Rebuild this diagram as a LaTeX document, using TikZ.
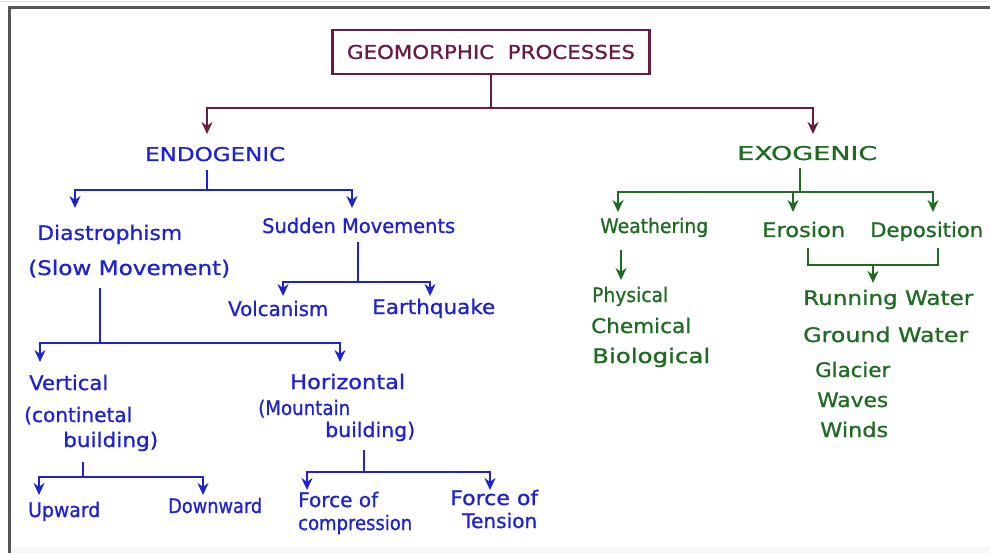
\documentclass[tikz,border=0pt]{standalone}
\usepackage{fontspec}
\usepackage{graphicx}
\setmainfont{DejaVu Sans}[FakeBold=0.8]
\newfontfamily\handfont[FakeBold=0.9]{DejaVu Sans}
\newfontfamily\capsfont[FakeBold=0.9]{DejaVu Sans}
\newcommand\hwbox[2]{\resizebox{#1pt}{\height}{#2}}
\usetikzlibrary{arrows.meta}
\definecolor{mar}{HTML}{6A1B45}
\definecolor{blu}{HTML}{1E22D2}
\definecolor{grn}{HTML}{1F6B22}
\definecolor{frm}{HTML}{555555}
\begin{document}
\begin{tikzpicture}[x=1pt,y=-1pt,
  lbl/.style={anchor=base west, inner sep=0pt, font=\handfont\fontsize{20}{22}\selectfont},
  blab/.style={lbl, text=blu},
  glab/.style={lbl, text=grn},
  caplab/.style={anchor=base west, inner sep=0pt, font=\capsfont\fontsize{19}{21}\selectfont},
  ml/.style={draw=mar, line width=2.8pt},
  bl/.style={draw=blu, line width=2.8pt},
  gl/.style={draw=grn, line width=2.8pt},
  arr/.style={-{Stealth[length=12pt,width=11pt]}}]
\useasboundingbox (0,0) rectangle (990,553);
\fill[white] (0,0) rectangle (990,553);
% frame
\draw[gray!25, line width=1pt] (0,2) -- (990,2);
\fill[gray!6] (9,547) rectangle (990,553);
\draw[frm, line width=3pt] (9,553) -- (9,8) -- (990,8);

% title
\node[draw=mar, line width=2.8pt, minimum width=317pt, minimum height=44pt, inner sep=0pt,
  text=mar, font=\capsfont\fontsize{19}{21}\selectfont] (title) at (491,52) {\hwbox{288}{GEOMORPHIC\ \ PROCESSES}};
\coordinate (j0) at (491,108);

% level 1
\node[caplab, text=blu] (endo) at (145,161) {\hwbox{140}{ENDOGENIC}};
\node[caplab, text=grn] (exo) at (737,160) {\hwbox{140}{EXOGENIC}};

\draw[ml] (title.south) -- (j0);
\draw[ml,arr] (j0) -| ([shift={(62,-27)}]endo.base west);
\draw[ml,arr] (j0) -| ([shift={(76,-26)}]exo.base west);

% endogenic
\node[blab] (dias) at (37,240) {\hwbox{145}{Diastrophism}};
\node[blab] (slow) at (28,275) {\hwbox{202}{(Slow Movement)}};
\node[blab] (sudden) at (262,233) {\hwbox{193}{Sudden Movements}};
\coordinate (jE) at (207,190);
\draw[bl] ([shift={(62,9)}]endo.base west) -- (jE);
\draw[bl,arr] (jE) -| ([shift={(38,-32)}]dias.base west);
\draw[bl,arr] (jE) -| ([shift={(90,-25)}]sudden.base west);

\node[blab] (volc) at (228,316) {\hwbox{100}{Volcanism}};
\node[blab] (earth) at (372,314) {\hwbox{123}{Earthquake}};
\coordinate (jS) at (358,282);
\draw[bl] ([shift={(96,9)}]sudden.base west) -- (jS);
\draw[bl,arr] (jS) -| ([shift={(55,-20)}]volc.base west);
\draw[bl,arr] (jS) -| ([shift={(58,-18)}]earth.base west);

\node[blab] (vert1) at (29,390) {\hwbox{79}{Vertical}};
\node[blab] (vert2) at (24,422) {\hwbox{108}{(continetal}};
\node[blab] (vert3) at (63,447) {\hwbox{95}{building)}};
\node[blab] (hor1) at (290,389) {\hwbox{115}{Horizontal}};
\node[blab] (hor2) at (258,415) {\hwbox{92}{(Mountain}};
\node[blab] (hor3) at (325,437) {\hwbox{90}{building)}};
\coordinate (jD) at (100,343);
\draw[bl] ([shift={(72,13)}]slow.base west) -- (jD);
\draw[bl,arr] (jD) -| ([shift={(11,-28)}]vert1.base west);
\draw[bl,arr] (jD) -| ([shift={(50,-27)}]hor1.base west);

\node[blab] (up) at (28,517) {\hwbox{72}{Upward}};
\node[blab] (down) at (168,513) {\hwbox{94}{Downward}};
\coordinate (jV) at (83,477);
\draw[bl] ([shift={(20,15)}]vert3.base west) -- (jV);
\draw[bl,arr] (jV) -| ([shift={(11,-22)}]up.base west);
\draw[bl,arr] (jV) -| ([shift={(35,-18)}]down.base west);

\node[blab] (f1a) at (298,507) {\hwbox{80}{Force of}};
\node[blab] (f1b) at (298,530) {\hwbox{114}{compression}};
\node[blab] (f2a) at (450,505) {\hwbox{88}{Force of}};
\node[blab] (f2b) at (462,528) {\hwbox{75}{Tension}};
\coordinate (jH) at (364,472);
\draw[bl] ([shift={(39,13)}]hor3.base west) -- (jH);
\draw[bl,arr] (jH) -| ([shift={(9,-17)}]f1a.base west);
\draw[bl,arr] (jH) -| ([shift={(40,-15)}]f2a.base west);

% exogenic
\node[glab] (weath) at (600,233) {\hwbox{108}{Weathering}};
\node[glab] (eros) at (762,237) {\hwbox{83}{Erosion}};
\node[glab] (dep) at (870,237) {\hwbox{113}{Deposition}};
\coordinate (jX) at (800,192);
\draw[gl] ([shift={(63,8)}]exo.base west) -- (jX);
\draw[gl,arr] (jX) -| ([shift={(18,-21)}]weath.base west);
\draw[gl,arr] (jX) -| ([shift={(63,-25)}]dep.base west);
\draw[gl,arr] ([shift={(-7,0)}]jX) -- ([shift={(31,-25)}]eros.base west);

\node[glab] (phys) at (592,302) {\hwbox{76}{Physical}};
\node[glab] (chem) at (591,333) {\hwbox{100}{Chemical}};
\node[glab] (bio) at (592,363) {\hwbox{118}{Biological}};
\draw[gl,arr] ([shift={(21,17)}]weath.base west) -- ([shift={(29,-22)}]phys.base west);

\node[glab] (run) at (803,305) {\hwbox{170}{Running Water}};
\node[glab] (ground) at (803,342) {\hwbox{165}{Ground Water}};
\node[glab] (glac) at (815,377) {\hwbox{75}{Glacier}};
\node[glab] (waves) at (817,407) {\hwbox{71}{Waves}};
\node[glab] (winds) at (820,437) {\hwbox{68}{Winds}};
\coordinate (jB) at (873,265);
\draw[gl] ([shift={(46,11)}]eros.base west) |- (jB) -| ([shift={(68,11)}]dep.base west);
\draw[gl,arr] (jB) -- ([shift={(70,-22)}]run.base west);
\end{tikzpicture}
\end{document}
